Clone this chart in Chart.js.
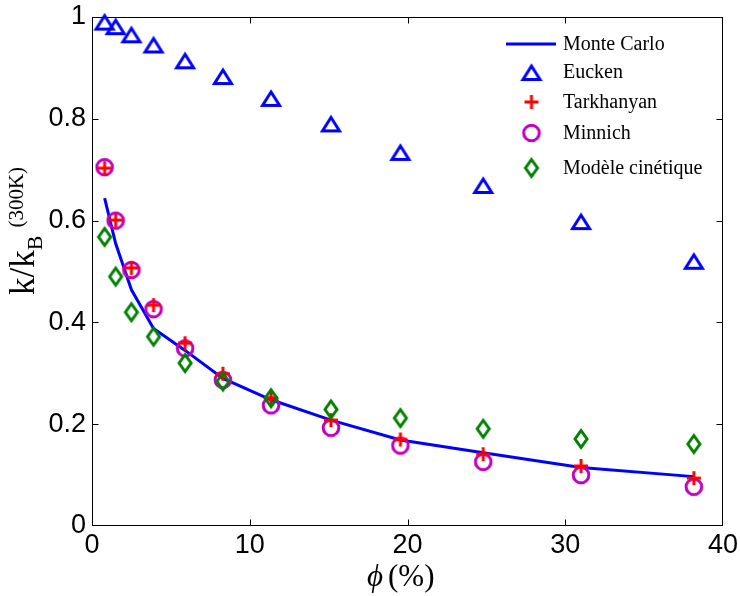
<!DOCTYPE html>
<html><head><meta charset="utf-8">
<script src="https://cdn.jsdelivr.net/npm/chart.js@4/dist/chart.umd.min.js"></script>
<style>html,body{margin:0;padding:0;background:#fff;} canvas{display:block;}</style>
</head><body>
<canvas id="c" width="740" height="596"></canvas>
<script>
// ---- data ----
const porosity   = [0.8, 1.5, 2.5, 3.9, 5.9, 8.3, 11.35, 15.15, 19.55, 24.8, 31.0, 38.15];
const monteCarlo = [0.644, 0.555, 0.464, 0.388, 0.345, 0.290, 0.248, 0.208, 0.169, 0.144, 0.115, 0.097];
const eucken     = [0.991, 0.982, 0.966, 0.946, 0.915, 0.884, 0.841, 0.791, 0.735, 0.670, 0.599, 0.521];
const tarkhanyan = [0.703, 0.601, 0.507, 0.434, 0.359, 0.299, 0.251, 0.208, 0.170, 0.141, 0.118, 0.094];
const minnich    = [0.705, 0.600, 0.503, 0.426, 0.349, 0.287, 0.237, 0.193, 0.158, 0.126, 0.100, 0.077];
const kinetic    = [0.568, 0.490, 0.420, 0.372, 0.320, 0.284, 0.251, 0.229, 0.212, 0.191, 0.171, 0.161];
const seriesNames = ['Monte Carlo', 'Eucken', 'Tarkhanyan', 'Minnich', 'Modèle cinétique'];
const xTicks = [0, 10, 20, 30, 40];
const yTicks = [0, 0.2, 0.4, 0.6, 0.8, 1];

// ---- marker images (MATLAB-like) ----
function makeMarker(kind, color) {
  const c = document.createElement('canvas');
  const W = 28, H = 28; c.width = W; c.height = H;
  const g = c.getContext('2d');
  const cx = W / 2, cy = H / 2;
  g.strokeStyle = color; g.lineWidth = 3; g.lineJoin = 'miter'; g.miterLimit = 10;
  g.beginPath();
  if (kind === 'triangle') {
    g.moveTo(cx, cy - 6); g.lineTo(cx + 8.5, cy + 7.5); g.lineTo(cx - 8.5, cy + 7.5); g.closePath();
  } else if (kind === 'circle') {
    g.arc(cx, cy, 7.8, 0, Math.PI * 2);
  } else if (kind === 'plus') {
    g.moveTo(cx - 7, cy); g.lineTo(cx + 7, cy); g.moveTo(cx, cy - 7); g.lineTo(cx, cy + 7);
  } else if (kind === 'diamond') {
    g.moveTo(cx, cy - 8.5); g.lineTo(cx + 6, cy); g.lineTo(cx, cy + 8.5); g.lineTo(cx - 6, cy); g.closePath();
  }
  g.stroke();
  return c;
}
const mkTri = makeMarker('triangle', '#0000ff');
const mkPlus = makeMarker('plus', '#ff0000');
const mkCirc = makeMarker('circle', '#bf00bf');
const mkDiam = makeMarker('diamond', '#008000');

const pts = ys => porosity.map((x, i) => ({ x: x, y: ys[i] }));

// ---- frame + inward ticks + axis titles ----
const framePlugin = {
  id: 'frame',
  beforeDatasetsDraw(chart) {
    const { ctx, chartArea: a, scales } = chart;
    ctx.save();
    ctx.strokeStyle = '#000'; ctx.lineWidth = 1;
    const L = Math.round(a.left) + 0.5, R = Math.round(a.right) - 0.5;
    const T = Math.round(a.top) + 0.5, B = Math.round(a.bottom) - 0.5;
    ctx.strokeRect(L, T, R - L, B - T);
    ctx.beginPath();
    xTicks.forEach(v => {
      const px = Math.round(scales.x.getPixelForValue(v)) + 0.5;
      if (px <= L + 1 || px >= R - 1) return;
      ctx.moveTo(px, B); ctx.lineTo(px, B - 6);
      ctx.moveTo(px, T); ctx.lineTo(px, T + 6);
    });
    yTicks.forEach(v => {
      const py = Math.round(scales.y.getPixelForValue(v)) + 0.5;
      if (py <= T + 1 || py >= B - 1) return;
      ctx.moveTo(L, py); ctx.lineTo(L + 6, py);
      ctx.moveTo(R, py); ctx.lineTo(R - 6, py);
    });
    ctx.stroke();
    ctx.restore();
  },
  afterDraw(chart) {
    const ctx = chart.ctx;
    ctx.save();
    ctx.fillStyle = '#000';
    ctx.textBaseline = 'alphabetic';
    // x title: phi(%)
    ctx.font = 'italic 31px "Liberation Serif"';
    ctx.fillText('\u03D5', 367, 586);
    ctx.font = '31px "Liberation Serif"';
    ctx.fillText('(%)', 388, 586);
    // y title: k/k_B ^(300K)
    ctx.translate(34, 295);
    ctx.rotate(-Math.PI / 2);
    ctx.font = '35px "Liberation Serif"';
    ctx.fillText('k/k', 0, 0);
    let w = ctx.measureText('k/k').width;
    ctx.font = '22px "Liberation Serif"';
    ctx.fillText('B', w, 8);
    w += ctx.measureText('B').width + 8;
    ctx.font = '21px "Liberation Serif"';
    ctx.fillText('(300K)', w, -11);
    ctx.restore();
  }
};

// ---- legend inside the axes, no box ----
const legendPlugin = {
  id: 'insideLegend',
  afterDraw(chart) {
    const ctx = chart.ctx;
    const rows = [44, 72, 102, 133, 168];
    const markerX = 531.5, textX = 563;
    ctx.save();
    ctx.font = '20px "Liberation Serif"';
    ctx.fillStyle = '#000';
    ctx.textBaseline = 'middle';
    chart.data.datasets.forEach((ds, i) => {
      const y = rows[i];
      if (ds.showLine) {
        ctx.strokeStyle = ds.borderColor; ctx.lineWidth = 3;
        ctx.beginPath(); ctx.moveTo(506, y); ctx.lineTo(556, y); ctx.stroke();
      } else {
        const im = ds.pointStyle;
        ctx.drawImage(im, markerX - im.width / 2, y - im.height / 2);
      }
      ctx.fillText(ds.label, textX, y + 1);
    });
    ctx.restore();
  }
};

new Chart(document.getElementById('c'), {
  type: 'scatter',
  data: {
    datasets: [
      { label: seriesNames[0], data: pts(monteCarlo), showLine: true, borderColor: '#0000ff', borderWidth: 3,
        pointRadius: 0, tension: 0, order: 5, clip: false },
      { label: seriesNames[1], data: pts(eucken), pointStyle: mkTri, pointRadius: 10, order: 4, clip: false },
      { label: seriesNames[2], data: pts(tarkhanyan), pointStyle: mkPlus, pointRadius: 10, order: 2, clip: false },
      { label: seriesNames[3], data: pts(minnich), pointStyle: mkCirc, pointRadius: 10, order: 3, clip: false },
      { label: seriesNames[4], data: pts(kinetic), pointStyle: mkDiam, pointRadius: 10, order: 1, clip: false }
    ]
  },
  options: {
    responsive: false,
    animation: false,
    layout: { padding: { left: 0, right: 17, top: 17, bottom: 0 } },
    plugins: { legend: { display: false }, tooltip: { enabled: false } },
    scales: {
      x: {
        type: 'linear', min: 0, max: 40,
        afterBuildTicks: s => { s.ticks = xTicks.map(v => ({ value: v })); },
        afterFit: s => { s.height = 70; s.paddingLeft = 0; s.paddingRight = 0; },
        grid: { display: false, drawTicks: false },
        border: { display: false },
        ticks: { font: { family: '"Liberation Sans"', size: 27 }, color: '#000', padding: 3,
                 maxRotation: 0, callback: v => String(v) }
      },
      y: {
        type: 'linear', min: 0, max: 1,
        afterBuildTicks: s => { s.ticks = yTicks.map(v => ({ value: v })); },
        afterFit: s => { s.width = 92; s.paddingTop = 0; s.paddingBottom = 0; },
        grid: { display: false, drawTicks: false },
        border: { display: false },
        ticks: { font: { family: '"Liberation Sans"', size: 27 }, color: '#000', padding: 6,
                 callback: v => String(+Number(v).toFixed(1)) }
      }
    }
  },
  plugins: [framePlugin, legendPlugin]
});
</script>
</body></html>
